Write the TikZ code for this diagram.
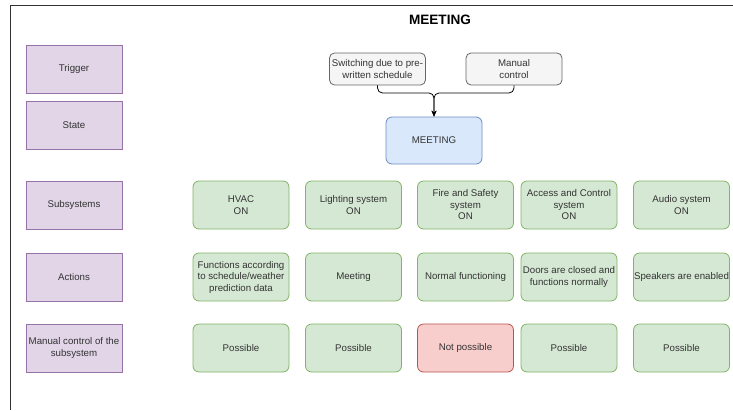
\documentclass[tikz,border=0pt]{standalone}
\usepackage{fontspec}
\setmainfont{Liberation Sans}
\usetikzlibrary{arrows.meta}
\definecolor{txt}{HTML}{333333}
\definecolor{purpfill}{HTML}{E1D5E7}
\definecolor{purpline}{HTML}{9673A6}
\definecolor{greenfill}{HTML}{D5E8D4}
\definecolor{greenline}{HTML}{82B366}
\definecolor{redfill}{HTML}{F8CECC}
\definecolor{redline}{HTML}{B85450}
\definecolor{bluefill}{HTML}{DAE8FC}
\definecolor{blueline}{HTML}{6C8EBF}
\definecolor{greyfill}{HTML}{F5F5F5}
\definecolor{greyline}{HTML}{666666}
\tikzset{
  base/.style={minimum width=96pt, minimum height=48pt, inner sep=0pt,
    align=center, text=txt, line width=0.8pt,
    font=\fontsize{9.7}{11.5}\selectfont},
  rowlabel/.style={base, draw=purpline, fill=purpfill},
  okbox/.style={base, draw=greenline, fill=greenfill, rounded corners=6pt},
  nobox/.style={base, draw=redline, fill=redfill, rounded corners=6pt},
  statebox/.style={base, draw=blueline, fill=bluefill, rounded corners=6pt, minimum height=47pt},
  trigbox/.style={base, draw=greyline, fill=greyfill, rounded corners=5pt, minimum height=32pt},
  flow/.style={line width=0.8pt, draw=black, rounded corners=5pt, -{Stealth[length=6pt,width=5pt]}}
}
\begin{document}
\begin{tikzpicture}[x=1pt, y=-1pt]
  \useasboundingbox (0,0) rectangle (733,410);
  % page frame
  \draw[line width=1.1pt, draw=txt] (10.5,410) -- (10.5,5.5) -- (733,5.5);

  % title
  \node[font=\fontsize{13.6}{16}\selectfont\bfseries] (title) at (440,20) {MEETING};

  % row labels
  \node[rowlabel] (lTrig) at (74,69)  {Trigger};
  \node[rowlabel] (lState) at (74,125) {State};
  \node[rowlabel] (lSub) at (74,205) {Subsystems};
  \node[rowlabel] (lAct) at (74,277) {Actions};
  \node[rowlabel] (lMan) at (74,348) {Manual control of the\\subsystem};

  % triggers and state
  \node[trigbox] (sched) at (377.5,69) {Switching due to pre-\\written schedule};
  \node[trigbox] (manual) at (514,69) {Manual\\control};
  \node[statebox] (state) at (434,140.5) {MEETING};
  \coordinate (join) at (434,93);
  \draw[flow] (sched.south) |- (join) -- (state.north);
  \draw[flow] (manual.south) |- (join) -- (state.north);

  % subsystems
  \node[okbox] (s1) at (241,205)   {HVAC\\ON};
  \node[okbox] (s2) at (353.5,205) {Lighting system\\ON};
  \node[okbox] (s3) at (465.5,205) {Fire and Safety\\system\\ON};
  \node[okbox] (s4) at (569,205)   {Access and Control\\system\\ON};
  \node[okbox] (s5) at (681.5,205) {Audio system\\ON};

  % actions
  \node[okbox] (a1) at (241,277)   {Functions according\\to schedule/weather\\prediction data};
  \node[okbox] (a2) at (353.5,277) {Meeting};
  \node[okbox] (a3) at (465.5,277) {Normal functioning};
  \node[okbox] (a4) at (569,277)   {Doors are closed and\\functions normally};
  \node[okbox] (a5) at (681.5,277) {Speakers are enabled};

  % manual control
  \node[okbox] (m1) at (241,348)   {Possible};
  \node[okbox] (m2) at (353.5,348) {Possible};
  \node[nobox] (m3) at (465.5,348) {Not possible};
  \node[okbox] (m4) at (569,348)   {Possible};
  \node[okbox] (m5) at (681.5,348) {Possible};
\end{tikzpicture}
\end{document}
